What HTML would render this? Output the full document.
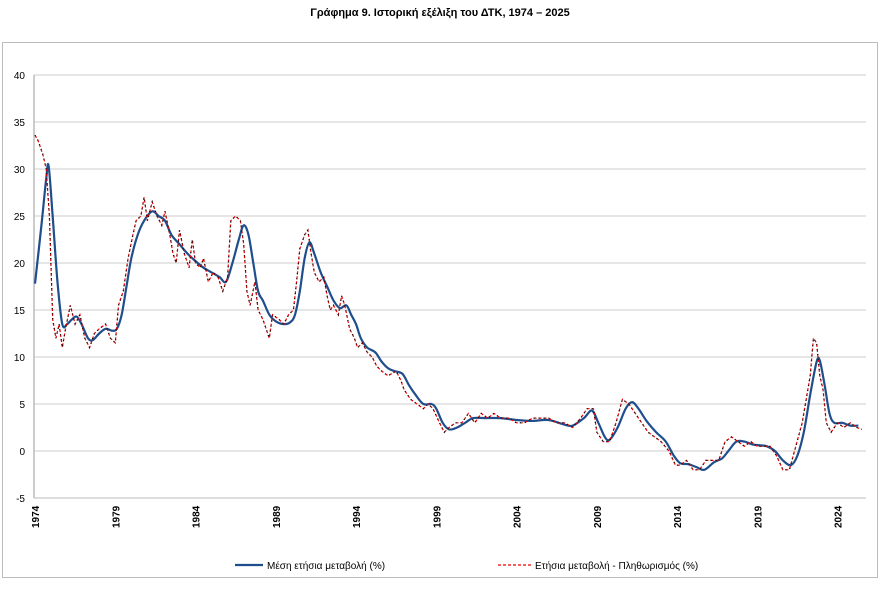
<!DOCTYPE html>
<html><head><meta charset="utf-8"><style>
body{margin:0;background:#fff;width:880px;height:585px;overflow:hidden;font-family:"Liberation Sans",sans-serif}
</style></head><body>
<svg id="s" width="880" height="585" xmlns="http://www.w3.org/2000/svg" font-family="Liberation Sans, sans-serif">
<text x="440" y="16" text-anchor="middle" font-size="11" font-weight="bold">Γράφημα 9. Ιστορική εξέλιξη του ΔΤΚ, 1974 – 2025</text>
<rect x="2.5" y="42.5" width="875" height="535" fill="none" stroke="#bbb"/>
<g id="grid"></g>
<g id="lines"></g>
<line x1="235" y1="565" x2="263" y2="565" stroke="#1f4e8c" stroke-width="2.2"/>
<text x="267" y="569" font-size="10">Μέση ετήσια μεταβολή (%)</text>
<line x1="498" y1="565" x2="531" y2="565" stroke="#e00" stroke-width="1.3" stroke-dasharray="3,2"/>
<text x="535" y="569" font-size="10">Ετήσια μεταβολή - Πληθωρισμός (%)</text>
</svg>
<script>
const X=y=>35+(y-1974)*16.05, Y=v=>451-v*9.4;
let g='';
for(let v=-5;v<=40;v+=5){g+=`<line x1="34" x2="866" y1="${Y(v)}" y2="${Y(v)}" stroke="${v==-5?'#bbb':'#ccc'}"/>`;
g+=`<text x="25" y="${Y(v)+4}" font-size="10" text-anchor="end">${v}</text>`;}
g+=`<line x1="34" x2="34" y1="${Y(40)}" y2="${Y(-5)}" stroke="#bbb" stroke-width="1.5"/>`;
for(let yr=1974;yr<=2024;yr+=5){const x=X(yr);g+=`<text transform="translate(${x+4},528) rotate(-90)" font-size="10" font-weight="bold">${yr}</text>`;}
document.getElementById('grid').innerHTML=g;
const red=[[1974,33.6],[1974.2,33],[1974.5,31.5],[1974.7,30],[1974.9,25],[1975.1,14],[1975.3,12],[1975.5,13.5],[1975.7,11],[1975.9,13],[1976.2,15.5],[1976.5,13.5],[1976.8,14.5],[1977.1,12],[1977.4,11],[1977.7,12.5],[1978,13],[1978.4,13.5],[1978.7,12],[1979,11.5],[1979.2,15.5],[1979.5,17],[1979.8,20.5],[1980.1,23],[1980.3,24.5],[1980.6,25],[1980.8,27],[1981,24.5],[1981.3,26.5],[1981.6,25],[1981.9,24],[1982.1,25.5],[1982.4,23],[1982.6,21],[1982.8,20],[1983,23.5],[1983.3,21],[1983.6,19.5],[1983.8,22.5],[1984,20],[1984.3,19.5],[1984.5,20.5],[1984.8,18],[1985.1,19],[1985.4,18.5],[1985.7,17],[1986,18.5],[1986.2,24.5],[1986.5,25],[1986.8,24.5],[1987,22],[1987.2,17],[1987.4,15.5],[1987.7,18],[1987.9,15],[1988.2,14],[1988.4,13],[1988.6,12],[1988.8,14.5],[1989.2,14],[1989.5,13.5],[1989.8,14.5],[1990.1,15],[1990.3,18],[1990.5,21.5],[1990.8,23],[1991,23.5],[1991.2,21],[1991.4,19],[1991.7,18],[1992,18.5],[1992.2,16.5],[1992.4,15],[1992.6,15.5],[1992.9,14.5],[1993.1,16.5],[1993.3,15.5],[1993.6,13],[1993.9,12],[1994.1,11],[1994.4,11.5],[1994.7,10.5],[1995,10],[1995.3,9],[1995.6,8.5],[1996,8],[1996.5,8.5],[1996.8,7.5],[1997,6.5],[1997.4,5.5],[1997.8,5],[1998.2,4.5],[1998.5,5],[1998.8,4.5],[1999.2,3],[1999.5,2],[1999.8,2.5],[2000.2,3],[2000.6,3],[2001,4],[2001.4,3],[2001.8,4],[2002.2,3.5],[2002.6,4],[2003,3.5],[2003.5,3.5],[2004,3],[2004.5,3],[2005,3.5],[2005.5,3.5],[2006,3.5],[2006.5,3],[2007,3],[2007.5,2.5],[2008,3.5],[2008.4,4.5],[2008.8,4.5],[2009,2],[2009.4,1],[2009.8,1],[2010.2,3],[2010.6,5.5],[2011,5],[2011.4,4],[2011.8,3],[2012.2,2],[2012.6,1.5],[2013,1],[2013.5,0],[2013.9,-1.5],[2014.2,-1.5],[2014.6,-1],[2015,-2],[2015.4,-2],[2015.8,-1],[2016.2,-1],[2016.6,-1],[2017,1],[2017.4,1.5],[2017.8,1],[2018.2,0.5],[2018.6,1],[2019,0.5],[2019.4,0.5],[2019.8,0.5],[2020.2,-0.5],[2020.6,-2],[2021,-2],[2021.4,0.5],[2021.8,3],[2022,5],[2022.3,8],[2022.5,12],[2022.7,11.5],[2022.9,8],[2023.1,6.5],[2023.3,3],[2023.6,2],[2024,3],[2024.4,2.5],[2024.8,3],[2025.2,2.5],[2025.5,2.3]];
const blue=[[1974,17.8],[1974.4,24],[1974.7,29],[1974.85,30.3],[1975.1,25],[1975.4,18],[1975.7,13.5],[1976,13.5],[1976.3,14],[1976.6,14.3],[1976.9,13.5],[1977.3,12],[1977.6,11.8],[1978,12.5],[1978.4,13],[1978.8,12.8],[1979.1,13],[1979.4,14.5],[1979.7,17.5],[1980,20.5],[1980.4,23],[1980.8,24.5],[1981.3,25.5],[1981.7,25],[1982.1,24.5],[1982.5,23],[1983,22],[1983.5,21],[1984,20.2],[1984.5,19.5],[1985,19],[1985.5,18.5],[1985.9,18],[1986.3,20],[1986.7,22.5],[1987,24],[1987.3,23],[1987.6,20],[1987.9,17],[1988.2,16],[1988.6,14.5],[1989,13.8],[1989.5,13.5],[1989.9,13.7],[1990.2,14.5],[1990.5,17],[1990.8,20.5],[1991.1,22.2],[1991.4,21],[1991.8,19],[1992.2,17.5],[1992.6,16],[1993,15.2],[1993.4,15.5],[1993.7,14.5],[1994,13.5],[1994.3,12],[1994.7,11],[1995.2,10.5],[1995.6,9.5],[1996,8.8],[1996.4,8.5],[1996.9,8.2],[1997.3,7],[1997.7,6],[1998.2,5],[1998.7,5],[1999,4.5],[1999.4,3],[1999.8,2.3],[2000.3,2.5],[2000.8,3],[2001.3,3.5],[2002,3.5],[2003,3.5],[2004,3.3],[2005,3.2],[2006,3.3],[2007,2.8],[2007.5,2.7],[2008.2,3.5],[2008.7,4.3],[2009.1,3],[2009.5,1.5],[2009.8,1.2],[2010.3,2.5],[2010.8,4.5],[2011.2,5.2],[2011.6,4.5],[2012.1,3.2],[2012.7,2],[2013.3,1],[2013.8,-0.5],[2014.2,-1.3],[2014.7,-1.4],[2015.2,-1.7],[2015.7,-2],[2016.3,-1.2],[2016.8,-0.8],[2017.2,0],[2017.7,1],[2018.2,1],[2018.7,0.7],[2019.2,0.6],[2019.6,0.5],[2020.1,0],[2020.6,-1],[2021.1,-1.5],[2021.5,-0.5],[2021.9,2],[2022.3,6],[2022.7,9.5],[2022.9,9.6],[2023.2,7],[2023.5,4],[2023.8,3],[2024.3,3],[2024.8,2.7],[2025.3,2.7]];
function smooth(d){const p=d.map(a=>[X(a[0]),Y(a[1])]);let s=`M${p[0][0]},${p[0][1]}`;
for(let i=0;i<p.length-1;i++){const a=p[i-1]||p[i],b=p[i],c=p[i+1],e=p[i+2]||c;
s+=` C${b[0]+(c[0]-a[0])/6},${b[1]+(c[1]-a[1])/6} ${c[0]-(e[0]-b[0])/6},${c[1]-(e[1]-b[1])/6} ${c[0]},${c[1]}`;}return s;}
const rp='M'+red.map(a=>X(a[0]).toFixed(1)+','+Y(a[1]).toFixed(1)).join(' L');
document.getElementById('lines').innerHTML=
`<path d="${smooth(blue)}" fill="none" stroke="#1f4e8c" stroke-width="2.2"/>`+
`<path d="${rp}" fill="none" stroke="#e00" stroke-width="1.2" stroke-dasharray="3,2"/>`+
`<path d="${rp}" fill="none" stroke="#111" stroke-width="1.2" stroke-dasharray="1.2,3.8"/>`;
</script>
</body></html>
